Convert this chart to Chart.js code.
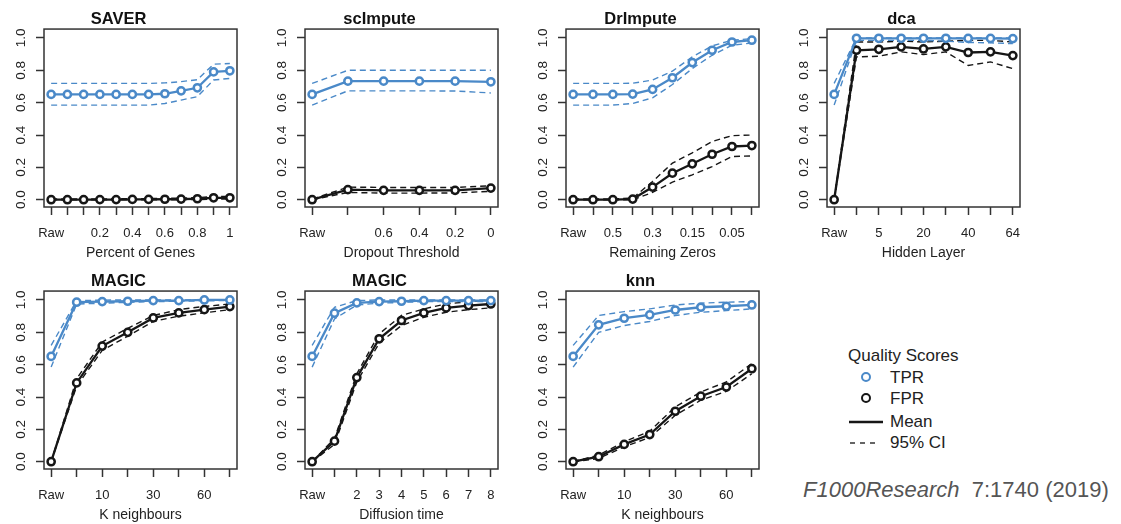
<!DOCTYPE html>
<html>
<head>
<meta charset="utf-8">
<script src="https://cdn.jsdelivr.net/npm/chart.js@4.4.1/dist/chart.umd.min.js"></script>
<style>
  body { margin: 0; background: #fff; width: 1121px; height: 524px; position: relative; overflow: hidden;
         font-family: "Liberation Sans", Arial, Helvetica, sans-serif; color: #222; }
  .cell { position: absolute; width: 261px; height: 262px; }
  .abs { position: absolute; white-space: nowrap; }
  .lg { font-size: 17px; line-height: 20px; }
  .dot { position: absolute; width: 6px; height: 6px; border-radius: 50%; border: 2.5px solid; background: #fff; }
  #cite { left: 803px; top: 477px; font-size: 22px; line-height: 26px; color: #555; }
</style>
</head>
<body>

<div class="abs lg" style="left:848px; top:346px;">Quality Scores</div>
<div class="dot" style="left:861px; top:372px; border-color:#4a89c8;"></div>
<div class="abs lg" style="left:890px; top:368px;">TPR</div>
<div class="dot" style="left:861px; top:393px; border-color:#161616;"></div>
<div class="abs lg" style="left:890px; top:389px;">FPR</div>
<svg class="abs" style="left:845px; top:412px;" width="42" height="20">
  <line x1="4" y1="10" x2="38" y2="10" stroke="#161616" stroke-width="2.5"/>
</svg>
<div class="abs lg" style="left:890px; top:412px;">Mean</div>
<svg class="abs" style="left:845px; top:433px;" width="42" height="20">
  <line x1="5" y1="10" x2="34" y2="10" stroke="#333" stroke-width="1.4" stroke-dasharray="5,5"/>
</svg>
<div class="abs lg" style="left:890px; top:433px;">95% CI</div>

<div id="cite" class="abs"><i>F1000Research</i>&nbsp; 7:1740 (2019)</div>

<script>
// ===== DATA =====
const yTickValues = [0, 0.2, 0.4, 0.6, 0.8, 1.0];

const saverLabels = ["Raw", "", "", "0.2", "", "0.4", "", "0.6", "", "0.8", "", "1"];
const saverTpr   = [0.651, 0.651, 0.651, 0.651, 0.651, 0.651, 0.651, 0.655, 0.673, 0.692, 0.790, 0.797];
const saverTprHi = [0.719, 0.719, 0.719, 0.719, 0.719, 0.719, 0.719, 0.722, 0.730, 0.742, 0.838, 0.842];
const saverTprLo = [0.585, 0.585, 0.585, 0.585, 0.585, 0.585, 0.585, 0.595, 0.616, 0.637, 0.740, 0.750];
const saverFpr   = [0, 0, 0, 0.001, 0.001, 0.002, 0.002, 0.003, 0.004, 0.006, 0.012, 0.012];
const saverFprHi = [0.004, 0.004, 0.005, 0.005, 0.006, 0.006, 0.007, 0.008, 0.010, 0.013, 0.020, 0.020];
const saverFprLo = [0, 0, 0, 0, 0, 0, 0, 0, 0, 0.001, 0.004, 0.005];

const scimLabels = ["Raw", "", "0.6", "0.4", "0.2", "0"];
const scimTpr   = [0.651, 0.733, 0.733, 0.733, 0.733, 0.729];
const scimTprHi = [0.719, 0.800, 0.800, 0.800, 0.800, 0.800];
const scimTprLo = [0.585, 0.673, 0.673, 0.673, 0.672, 0.660];
const scimFpr   = [0, 0.062, 0.058, 0.058, 0.058, 0.072];
const scimFprHi = [0.004, 0.078, 0.076, 0.076, 0.076, 0.086];
const scimFprLo = [0, 0.045, 0.041, 0.041, 0.042, 0.052];

const drimLabels = ["Raw", "", "0.5", "", "0.3", "", "0.15", "", "0.05", ""];
const drimTpr   = [0.651, 0.651, 0.651, 0.653, 0.682, 0.754, 0.848, 0.924, 0.975, 0.986];
const drimTprHi = [0.719, 0.719, 0.719, 0.720, 0.740, 0.795, 0.883, 0.951, 0.986, 0.996];
const drimTprLo = [0.585, 0.585, 0.585, 0.595, 0.630, 0.712, 0.811, 0.893, 0.955, 0.969];
const drimFpr   = [0, 0, 0, 0.004, 0.078, 0.164, 0.222, 0.281, 0.329, 0.335];
const drimFprHi = [0.004, 0.004, 0.004, 0.010, 0.113, 0.226, 0.290, 0.360, 0.396, 0.400];
const drimFprLo = [0, 0, 0, 0, 0.045, 0.109, 0.154, 0.205, 0.267, 0.271];

const dcaLabels = ["Raw", "", "5", "", "20", "", "40", "", "64"];
const dcaTpr   = [0.651, 0.998, 0.998, 0.998, 0.998, 0.998, 0.997, 0.997, 0.996];
const dcaTprHi = [0.719, 1.0, 1.0, 1.0, 1.0, 1.0, 1.0, 1.0, 1.0];
const dcaTprLo = [0.585, 0.985, 0.985, 0.985, 0.985, 0.980, 0.972, 0.970, 0.965];
const dcaFpr   = [0, 0.924, 0.930, 0.945, 0.932, 0.945, 0.910, 0.914, 0.891];
const dcaFprHi = [0, 0.975, 0.975, 0.980, 0.975, 0.980, 0.985, 0.985, 0.975];
const dcaFprLo = [0, 0.883, 0.887, 0.914, 0.897, 0.914, 0.830, 0.852, 0.810];

const magkLabels = ["Raw", "", "10", "", "30", "", "60", ""];
const magkTpr   = [0.651, 0.986, 0.990, 0.992, 0.996, 0.996, 1.0, 1.0];
const magkTprHi = [0.719, 0.996, 0.999, 1.0, 1.0, 1.0, 1.0, 1.0];
const magkTprLo = [0.585, 0.975, 0.980, 0.985, 0.990, 0.992, 0.995, 0.996];
const magkFpr   = [0, 0.487, 0.715, 0.800, 0.889, 0.920, 0.940, 0.959];
const magkFprHi = [0, 0.513, 0.740, 0.825, 0.904, 0.940, 0.960, 0.975];
const magkFprLo = [0, 0.468, 0.688, 0.776, 0.867, 0.900, 0.920, 0.940];

const magtLabels = ["Raw", "", "2", "3", "4", "5", "6", "7", "8"];
const magtTpr   = [0.651, 0.918, 0.982, 0.990, 0.992, 0.996, 0.996, 0.996, 0.996];
const magtTprHi = [0.719, 0.955, 0.996, 1.0, 1.0, 1.0, 1.0, 1.0, 1.0];
const magtTprLo = [0.585, 0.883, 0.969, 0.980, 0.985, 0.990, 0.990, 0.990, 0.990];
const magtFpr   = [0, 0.127, 0.520, 0.760, 0.873, 0.920, 0.951, 0.965, 0.975];
const magtFprHi = [0, 0.144, 0.544, 0.790, 0.904, 0.945, 0.975, 0.990, 1.0];
const magtFprLo = [0, 0.107, 0.493, 0.733, 0.842, 0.893, 0.924, 0.940, 0.951];

const knnLabels = ["Raw", "", "10", "", "30", "", "60", ""];
const knnTpr   = [0.651, 0.846, 0.887, 0.908, 0.938, 0.955, 0.961, 0.969];
const knnTprHi = [0.719, 0.904, 0.928, 0.945, 0.969, 0.980, 0.986, 0.990];
const knnTprLo = [0.585, 0.800, 0.842, 0.867, 0.904, 0.924, 0.934, 0.945];
const knnFpr   = [0, 0.031, 0.107, 0.168, 0.312, 0.405, 0.462, 0.575];
const knnFprHi = [0, 0.041, 0.123, 0.189, 0.339, 0.431, 0.493, 0.606];
const knnFprLo = [0, 0.020, 0.092, 0.150, 0.287, 0.380, 0.435, 0.544];

const panels = [
  { title: "SAVER",    xTitle: "Percent of Genes",  col: 0, row: 0, labels: saverLabels, tpr: saverTpr, tprHi: saverTprHi, tprLo: saverTprLo, fpr: saverFpr, fprHi: saverFprHi, fprLo: saverFprLo },
  { title: "scImpute", xTitle: "Dropout Threshold", col: 1, row: 0, labels: scimLabels,  tpr: scimTpr,  tprHi: scimTprHi,  tprLo: scimTprLo,  fpr: scimFpr,  fprHi: scimFprHi,  fprLo: scimFprLo },
  { title: "DrImpute", xTitle: "Remaining Zeros",   col: 2, row: 0, labels: drimLabels,  tpr: drimTpr,  tprHi: drimTprHi,  tprLo: drimTprLo,  fpr: drimFpr,  fprHi: drimFprHi,  fprLo: drimFprLo },
  { title: "dca",      xTitle: "Hidden Layer",      col: 3, row: 0, labels: dcaLabels,   tpr: dcaTpr,   tprHi: dcaTprHi,   tprLo: dcaTprLo,   fpr: dcaFpr,   fprHi: dcaFprHi,   fprLo: dcaFprLo },
  { title: "MAGIC",    xTitle: "K neighbours",      col: 0, row: 1, labels: magkLabels,  tpr: magkTpr,  tprHi: magkTprHi,  tprLo: magkTprLo,  fpr: magkFpr,  fprHi: magkFprHi,  fprLo: magkFprLo },
  { title: "MAGIC",    xTitle: "Diffusion time",    col: 1, row: 1, labels: magtLabels,  tpr: magtTpr,  tprHi: magtTprHi,  tprLo: magtTprLo,  fpr: magtFpr,  fprHi: magtFprHi,  fprLo: magtFprLo },
  { title: "knn",      xTitle: "K neighbours",      col: 2, row: 1, labels: knnLabels,   tpr: knnTpr,   tprHi: knnTprHi,   tprLo: knnTprLo,   fpr: knnFpr,   fprHi: knnFprHi,   fprLo: knnFprLo }
];

// ===== STYLE =====
const TPR_COLOR = "#4a89c8";
const FPR_COLOR = "#161616";
const AXIS_COLOR = "#333";

function xy(arr) {
  return arr.map((v, i) => ({ x: i, y: v }));
}

function meanSet(values, color) {
  return {
    data: xy(values), borderColor: color, borderWidth: 2.3, tension: 0,
    pointRadius: 3.6, pointHoverRadius: 3.6, pointBorderWidth: 2.5,
    pointBorderColor: color, pointBackgroundColor: "#fff"
  };
}

function ciSet(values, color) {
  return {
    data: xy(values), borderColor: color, borderWidth: 1.4, borderDash: [6, 4],
    tension: 0, pointRadius: 0, pointHoverRadius: 0
  };
}

// box around the plot region
const boxPlugin = {
  id: "box",
  afterDatasetsDraw(chart) {
    const { ctx, chartArea: a } = chart;
    ctx.save();
    ctx.strokeStyle = AXIS_COLOR;
    ctx.lineWidth = 1.5;
    ctx.strokeRect(a.left, a.top, a.right - a.left, a.bottom - a.top);
    ctx.restore();
  }
};

// ===== CHARTS =====
function makePanel(p) {
  const cell = document.createElement("div");
  cell.className = "cell";
  cell.style.left = (p.col * 261) + "px";
  cell.style.top = (p.row * 262) + "px";
  const canvas = document.createElement("canvas");
  canvas.width = 261;
  canvas.height = 262;
  cell.appendChild(canvas);
  document.body.appendChild(cell);

  const n = p.labels.length;
  const gridOpts = { drawOnChartArea: false, drawTicks: true, tickLength: 8, tickColor: AXIS_COLOR, tickWidth: 1.5 };

  new Chart(canvas, {
    type: "line",
    data: {
      datasets: [
        meanSet(p.tpr, TPR_COLOR),
        meanSet(p.fpr, FPR_COLOR),
        ciSet(p.tprHi, TPR_COLOR),
        ciSet(p.tprLo, TPR_COLOR),
        ciSet(p.fprHi, FPR_COLOR),
        ciSet(p.fprLo, FPR_COLOR)
      ]
    },
    options: {
      responsive: false,
      animation: false,
      devicePixelRatio: 1,
      layout: { padding: { top: 0, right: 24, left: 0, bottom: 0 } },
      plugins: {
        legend: { display: false },
        tooltip: { enabled: false },
        title: {
          display: true, text: p.title, color: "#111",
          font: { size: 16.5, weight: "bold", family: "'Liberation Sans', Arial", lineHeight: 1.155 },
          padding: { top: 10, bottom: 0 }
        }
      },
      scales: {
        x: {
          type: "linear",
          min: -0.04 * (n - 1),
          max: 1.04 * (n - 1),
          afterBuildTicks: s => { s.ticks = p.labels.map((l, i) => ({ value: i })); },
          afterFit: s => { s.height = 55; },
          ticks: {
            callback: v => p.labels[v] ?? "",
            autoSkip: false, maxRotation: 0, minRotation: 0, padding: 11,
            color: "#222", font: { size: 13, family: "'Liberation Sans', Arial" }
          },
          grid: gridOpts,
          border: { display: false },
          title: {
            display: true, text: p.xTitle, color: "#222",
            font: { size: 14, family: "'Liberation Sans', Arial" },
            padding: { top: 0, bottom: 0 }
          }
        },
        y: {
          min: -0.045,
          max: 1.055,
          afterBuildTicks: s => { s.ticks = yTickValues.map(v => ({ value: v })); },
          afterFit: s => { s.width = 44; },
          ticks: {
            callback: v => v.toFixed(1),
            minRotation: 90, maxRotation: 90, crossAlign: "center", padding: 5,
            color: "#222", font: { size: 13.5, family: "'Liberation Sans', Arial" }
          },
          grid: gridOpts,
          border: { display: false }
        }
      }
    },
    plugins: [boxPlugin]
  });
}

panels.forEach(makePanel);
</script>
</body>
</html>
